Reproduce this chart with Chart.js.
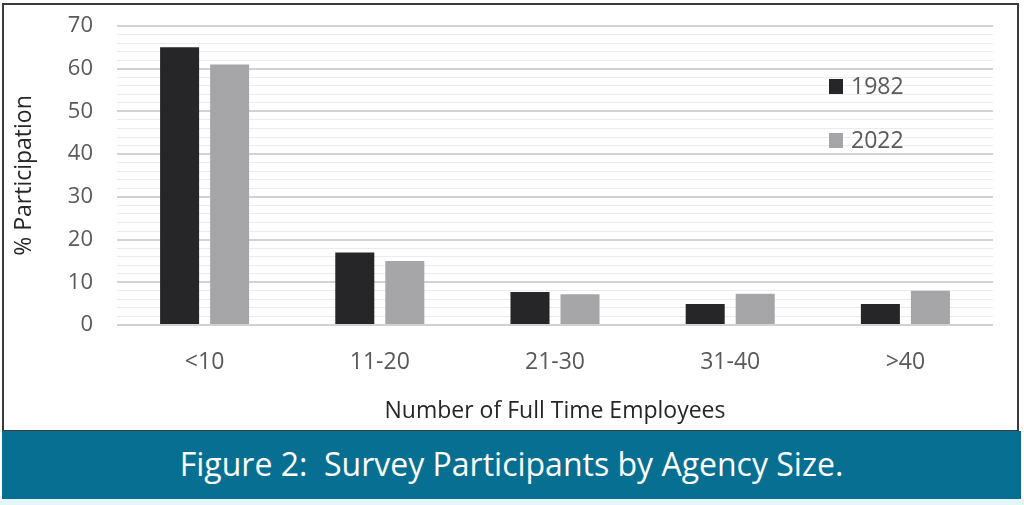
<!DOCTYPE html>
<html>
<head>
<meta charset="utf-8">
<script src="https://cdn.jsdelivr.net/npm/chart.js@4.4.0/dist/chart.umd.min.js"></script>
<style>
  body { margin: 0; width: 1024px; height: 505px; background: #ffffff; position: relative; overflow: hidden; }
  #frame { position: absolute; left: 2px; top: 3px; width: 1017px; height: 429px; border: 2px solid #3a3a3a; box-sizing: border-box; background: #fff; }
  #chart { display: block; }
  #banner { position: absolute; left: 2px; top: 431px; width: 1019px; height: 68px; background: #076f92; color: #ffffff;
    font-family: "Open Sans", sans-serif; font-size: 32px; text-align: center; line-height: 66px; white-space: pre; }
  #strip { position: absolute; left: 0; top: 499px; width: 1024px; height: 6px; background: #e4f6f9; }
</style>
</head>
<body>
<div id="frame"><canvas id="chart" width="1013" height="425"></canvas></div>
<div id="banner">Figure 2:  Survey Participants by Agency Size.</div>
<div id="strip"></div>
<script>
const categories = ['<10', '11-20', '21-30', '31-40', '>40'];
const seriesNames = ['1982', '2022'];
const values1982 = [65, 17, 7.7, 4.9, 4.9];
const values2022 = [61, 15, 7.2, 7.3, 8];
const seriesColors = ['#262628', '#a6a6a8'];

// legend sits inside the plot, stacked with wide spacing
const insideLegend = {
  id: 'insideLegend',
  afterDraw(chart) {
    const ctx = chart.ctx;
    ctx.save();
    ctx.font = '23px "Open Sans", sans-serif';
    ctx.textBaseline = 'middle';
    chart.data.datasets.forEach((ds, i) => {
      const y = 81 + i * 54;
      ctx.fillStyle = ds.backgroundColor;
      ctx.fillRect(825, y - 7, 14, 15);
      ctx.fillStyle = '#595959';
      ctx.fillText(ds.label, 847, y + 1);
    });
    ctx.restore();
  }
};

const ctx = document.getElementById('chart').getContext('2d');
new Chart(ctx, {
  type: 'bar',
  data: {
    labels: categories,
    datasets: [
      { label: seriesNames[0], data: values1982, backgroundColor: seriesColors[0] },
      { label: seriesNames[1], data: values2022, backgroundColor: seriesColors[1] }
    ]
  },
  options: {
    responsive: false,
    animation: false,
    devicePixelRatio: 1,
    categoryPercentage: 0.571,
    barPercentage: 0.78,
    layout: { padding: { top: 21, right: 24, left: 0, bottom: 0 } },
    plugins: { legend: { display: false }, tooltip: { enabled: false } },
    scales: {
      x: {
        grid: { display: false },
        border: { display: false },
        ticks: { color: '#595959', font: { family: 'Open Sans', size: 23 }, padding: 16 },
        title: { display: true, text: 'Number of Full Time Employees', color: '#262626',
          font: { family: 'Open Sans', size: 23 }, padding: { top: 0, bottom: 5 } },
        afterFit: (s) => { s.height = 105; }
      },
      y: {
        min: 0, max: 70,
        grid: {
          drawTicks: false,
          color: (c) => (c.tick.value % 10 === 0 ? '#d2d2d2' : '#ebebeb'),
          lineWidth: (c) => (c.tick.value % 10 === 0 ? 2 : 1)
        },
        border: { display: false },
        ticks: {
          stepSize: 2, autoSkip: false, color: '#595959',
          font: { family: 'Open Sans', size: 22 }, padding: 24,
          callback: (v) => (v % 10 === 0 ? v : '')
        },
        title: { display: true, text: '% Participation', color: '#262626',
          font: { family: 'Open Sans', size: 23 }, padding: { top: 7, bottom: 0 } },
        afterFit: (s) => {
          s.width = 113;
          // the empty minor labels push the plot down, so drop that padding
          s.paddingTop = 0;
          s.paddingBottom = 0;
        }
      }
    }
  },
  plugins: [insideLegend]
});
</script>
</body>
</html>
